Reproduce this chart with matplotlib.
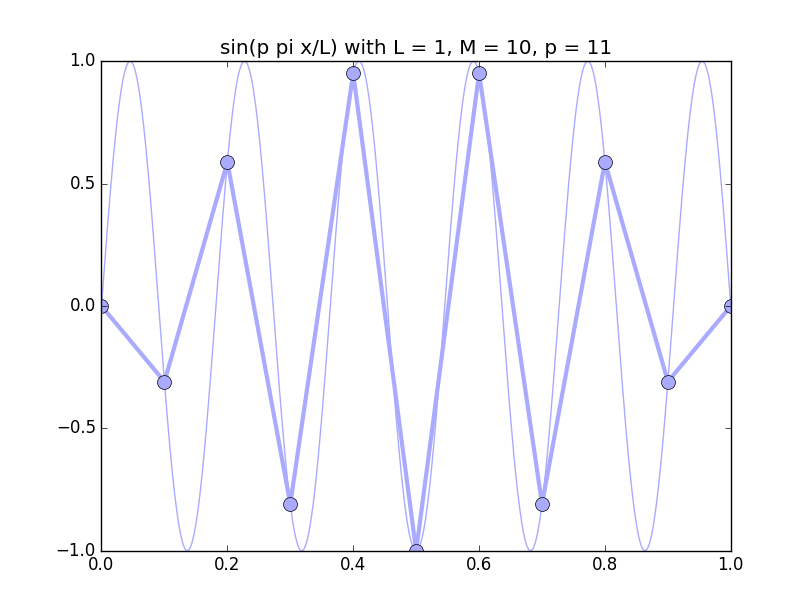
import numpy as np
import matplotlib
matplotlib.use("Agg")
import matplotlib.pyplot as plt

plt.style.use('classic')

# parameters from the title
L = 1
M = 10
p = 11

x_pts = [0.0, 0.1, 0.2, 0.3, 0.4, 0.5, 0.6, 0.7, 0.8, 0.9, 1.0]
y_pts = [0.0, -0.309, 0.588, -0.809, 0.951, -1.0, 0.951, -0.809, 0.588, -0.309, 0.0]

# smooth curve of the function named in the title
xx = np.linspace(0, L, 1000)
yy = np.sin(p * np.pi * xx / L)

fig = plt.figure(figsize=(8.12, 6.12), dpi=100)
ax = fig.add_subplot(111)

ax.plot(xx, yy, color='#aaaaff', linewidth=1)
ax.plot(x_pts, y_pts, color='#aaaaff', linewidth=3, marker='o',
        markersize=10, markerfacecolor='#aaaaff', markeredgecolor='black',
        markeredgewidth=0.5)

ax.set_xlim(0, 1)
ax.set_ylim(-1, 1)
ax.set_xticks([0.0, 0.2, 0.4, 0.6, 0.8, 1.0])
ax.set_yticks([-1.0, -0.5, 0.0, 0.5, 1.0])
ax.set_title('sin(p pi x/L) with L = %d, M = %d, p = %d' % (L, M, p))

fig.savefig('out.png', dpi=100)
